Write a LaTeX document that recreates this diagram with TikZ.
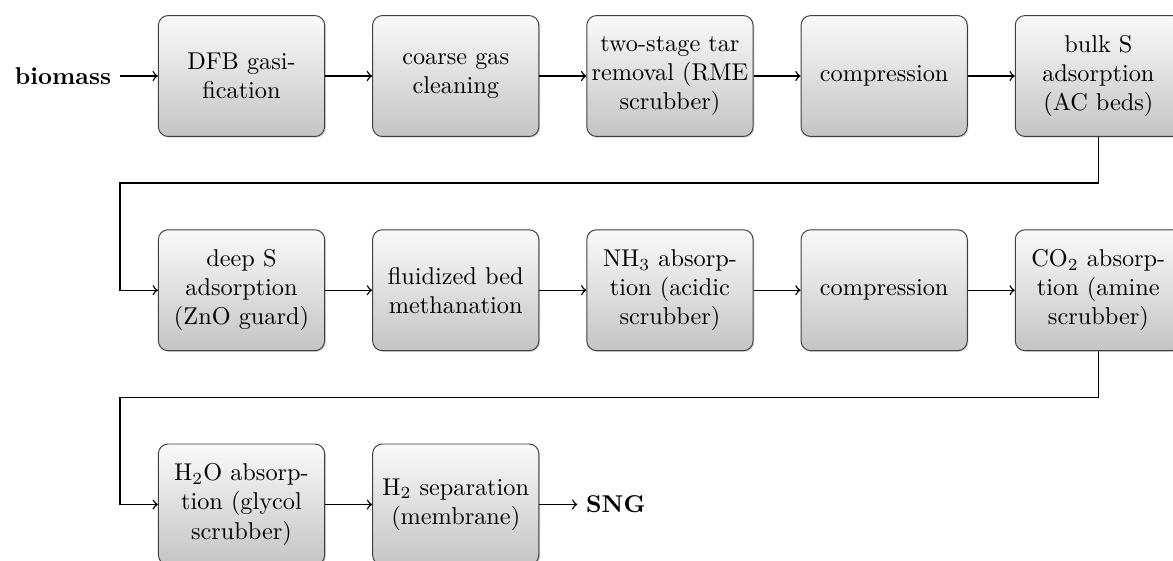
\documentclass[tikz,border=0pt]{standalone}
\usetikzlibrary{arrows,positioning,shadows}

\begin{document}
\begin{tikzpicture}[semithick,
  proc/.style={draw=black!75,thin,rounded corners=4pt,top color=black!2,bottom color=black!23,
    drop shadow={shadow xshift=0.5pt,shadow yshift=-0.5pt,opacity=0.35},
    text width=2.3cm,inner xsep=1.5pt,align=center,minimum height=1.75cm},
  ends/.style={font=\bfseries}]
\useasboundingbox (-3.495,1.10) rectangle (13.48,-7.005);

\node (p1) at (0,0) [proc] {DFB gasification};
\node (p2) at (3.1,0) [proc] {coarse gas cleaning};
\node (p3) at (6.2,0) [proc] {two-stage tar removal (RME scrubber)};
\node (p4) at (9.3,0) [proc] {compression};
\node (p5) at (12.4,0) [proc] {bulk S adsorption (AC beds)};

\node (p6) at (0,-3.1) [proc] {deep S adsorption (ZnO guard)};
\node (p7) at (3.1,-3.1) [proc] {fluidized bed methanation};
\node (p8) at (6.2,-3.1) [proc] {NH$_3$ absorption (acidic scrubber)};
\node (p9) at (9.3,-3.1) [proc] {compression};
\node (p10) at (12.4,-3.1) [proc] {CO$_2$ absorption (amine scrubber)};

\node (p11) at (0,-6.2) [proc] {H$_2$O absorption (glycol scrubber)};
\node (p12) at (3.1,-6.2) [proc] {H$_2$ separation (membrane)};

\node (in) [ends,left=0.55cm of p1] {biomass};
\node (out) [ends,right=0.55cm of p12] {SNG};

\coordinate (k1) at (-1.76,-1.55);
\coordinate (k2) at (-1.76,-4.65);

\draw[->] (in) -- (p1);
\foreach \a/\b in {p1/p2,p2/p3,p3/p4,p4/p5,p6/p7,p7/p8,p8/p9,p9/p10,p11/p12}
  \draw[->] (\a) -- (\b);
\draw[->] (p5) |- (k1) |- (p6);
\draw[->] (p10) |- (k2) |- (p11);
\draw[->] (p12) -- (out);

\end{tikzpicture}
\end{document}
